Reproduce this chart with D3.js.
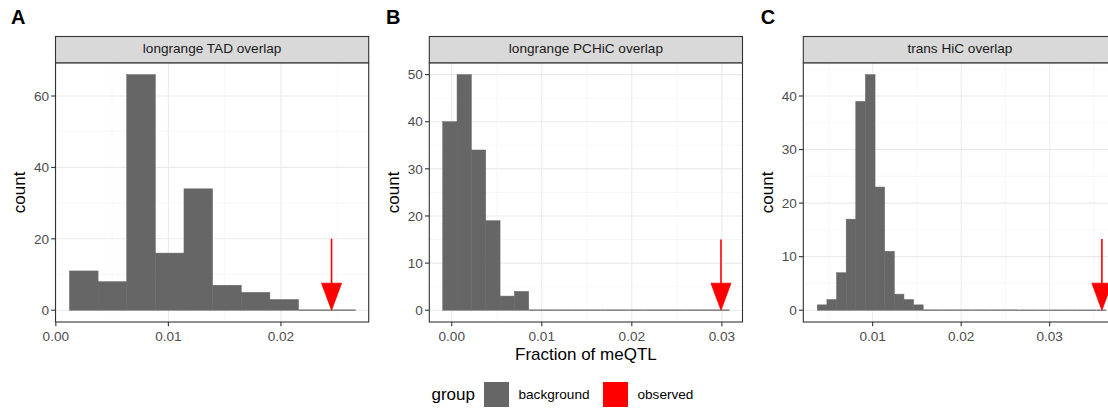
<!DOCTYPE html>
<html>
<head>
<meta charset="utf-8">
<script src="https://cdn.jsdelivr.net/npm/d3@7"></script>
<style>
  body { margin: 0; background: #fff; }
  svg { display: block; font-family: "Liberation Sans", Arial, sans-serif; }
</style>
</head>
<body>
<svg id="chart" width="1108" height="408"></svg>
<script>
// panel letters and facet strip titles
var panelLabels = ["A", "B", "C"];
var stripTitles = ["longrange TAD overlap", "longrange PCHiC overlap", "trans HiC overlap"];

// histogram bins: start of first bin, bin width, counts per bin
var binStart = [0.00121, -0.001, 0.00374];
var binWidth = [0.002544, 0.001592, 0.001088];
var countsA = [11, 8, 66, 16, 34, 7, 5, 3, 0, 0];
var countsB = [40, 50, 34, 19, 3, 4, 0, 0, 0, 0, 0, 0, 0, 0, 0, 0, 0, 0, 0, 0];
var countsC = [1, 2, 7, 17, 39, 44, 23, 11, 3, 2, 1, 0, 0, 0, 0, 0, 0, 0, 0, 0,
               0, 0, 0, 0, 0, 0, 0, 0, 0, 0];
var counts = [countsA, countsB, countsC];

// observed fraction (red arrow) and arrow top in counts
var observed = [0.0245, 0.0299, 0.0359];
var arrowTop = [20, 15, 13.3];

// axes
var xLimits = [[-0.00003, 0.0278], [-0.00249, 0.03229], [0.00216, 0.03755]];
var yLimits = [[-3.3, 69.3], [-2.5, 52.5], [-2.2, 46.2]];
var xTicks = [[0, 0.01, 0.02], [0, 0.01, 0.02, 0.03], [0.01, 0.02, 0.03]];
var yTicks = [[0, 20, 40, 60], [0, 10, 20, 30, 40, 50], [0, 10, 20, 30, 40]];
var xTitles = ["", "Fraction of meQTL", ""];

var groups = ["background", "observed"];
var groupColors = ["#666666", "#FF0000"];

// layout
var panelLeft = [55.5, 429.3, 803.3];
var panelW = 313.2;
var stripTop = 36.5, panelTop = 62.8, panelBottom = 322;
var labelX = [11, 386, 760.7];

var svg = d3.select("#chart");

function minors(ticks, dom) {
  var step = ticks.length > 1 ? ticks[1] - ticks[0] : 1;
  var out = [];
  var lo = ticks[0] - step * 2;
  for (var v = lo; v <= dom[1] + 1e-9; v += step) {
    var m = v + step / 2;
    if (m >= dom[0] && m <= dom[1]) out.push(m);
  }
  return out;
}

panelLabels.forEach(function(lab, i) {
  var left = panelLeft[i];
  var x = d3.scaleLinear().domain(xLimits[i]).range([left, left + panelW]);
  var y = d3.scaleLinear().domain(yLimits[i]).range([panelBottom, panelTop]);

  var g = svg.append("g");

  // panel clip
  var clipId = "clip" + i;
  g.append("clipPath").attr("id", clipId)
    .append("rect")
    .attr("x", left).attr("y", panelTop)
    .attr("width", panelW).attr("height", panelBottom - panelTop);

  var inner = g.append("g").attr("clip-path", "url(#" + clipId + ")");

  // minor grid
  inner.selectAll("line.xminor")
    .data(minors(xTicks[i], xLimits[i]))
    .enter().append("line")
    .attr("x1", d => x(d)).attr("x2", d => x(d))
    .attr("y1", panelTop).attr("y2", panelBottom)
    .style("stroke", "#F2F2F2").style("stroke-width", 0.6);
  inner.selectAll("line.yminor")
    .data(minors(yTicks[i], yLimits[i]))
    .enter().append("line")
    .attr("x1", left).attr("x2", left + panelW)
    .attr("y1", d => y(d)).attr("y2", d => y(d))
    .style("stroke", "#F2F2F2").style("stroke-width", 0.6);

  // major grid
  inner.selectAll("line.xmajor")
    .data(xTicks[i])
    .enter().append("line")
    .attr("x1", d => x(d)).attr("x2", d => x(d))
    .attr("y1", panelTop).attr("y2", panelBottom)
    .style("stroke", "#EBEBEB").style("stroke-width", 1.1);
  inner.selectAll("line.ymajor")
    .data(yTicks[i])
    .enter().append("line")
    .attr("x1", left).attr("x2", left + panelW)
    .attr("y1", d => y(d)).attr("y2", d => y(d))
    .style("stroke", "#EBEBEB").style("stroke-width", 1.1);

  // histogram bars
  var bins = counts[i].map(function(c, k) {
    return { x0: binStart[i] + k * binWidth[i], x1: binStart[i] + (k + 1) * binWidth[i], n: c };
  });
  inner.selectAll("rect.bar")
    .data(bins.filter(d => d.n > 0))
    .enter().append("rect")
    .attr("x", d => x(d.x0))
    .attr("width", d => x(d.x1) - x(d.x0))
    .attr("y", d => y(d.n))
    .attr("height", d => y(0) - y(d.n))
    .style("fill", groupColors[0])
    .style("stroke", groupColors[0])
    .style("stroke-width", 0.5);
  // empty bins show as a flat line on the baseline
  inner.selectAll("line.empty")
    .data(bins.filter(d => d.n === 0))
    .enter().append("line")
    .attr("x1", d => x(d.x0)).attr("x2", d => x(d.x1))
    .attr("y1", y(0)).attr("y2", y(0))
    .style("stroke", groupColors[0]).style("stroke-width", 1.2);

  // observed arrow
  var ox = x(observed[i]);
  var tip = y(0);
  inner.append("line")
    .attr("x1", ox).attr("x2", ox)
    .attr("y1", y(arrowTop[i])).attr("y2", tip - 20)
    .style("stroke", groupColors[1]).style("stroke-width", 1.6);
  inner.append("path")
    .attr("d", "M" + (ox - 10) + "," + (tip - 27) + "L" + (ox + 10) + "," + (tip - 27) + "L" + ox + "," + tip + "Z")
    .style("fill", groupColors[1]).style("stroke", groupColors[1]).style("stroke-width", 0.8);

  // panel border
  g.append("rect")
    .attr("x", left).attr("y", panelTop)
    .attr("width", panelW).attr("height", panelBottom - panelTop)
    .style("fill", "none").style("stroke", "#333333").style("stroke-width", 1.1);

  // strip
  g.append("rect")
    .attr("x", left).attr("y", stripTop)
    .attr("width", panelW).attr("height", panelTop - stripTop)
    .style("fill", "#D9D9D9").style("stroke", "#333333").style("stroke-width", 1.1);
  g.append("text")
    .attr("x", left + panelW / 2).attr("y", 52.5)
    .attr("text-anchor", "middle")
    .style("font-size", "13.6px").style("fill", "#1A1A1A")
    .text(stripTitles[i]);

  // x axis
  var xAxis = g.selectAll("g.xt").data(xTicks[i]).enter().append("g");
  xAxis.append("line")
    .attr("x1", d => x(d)).attr("x2", d => x(d))
    .attr("y1", panelBottom).attr("y2", panelBottom + 4.3)
    .style("stroke", "#333333").style("stroke-width", 1.1);
  xAxis.append("text")
    .attr("x", d => x(d)).attr("y", panelBottom + 18.7)
    .attr("text-anchor", "middle")
    .style("font-size", "13.6px").style("fill", "#4D4D4D")
    .text(d => d3.format(".2f")(d));

  // y axis
  var yAxis = g.selectAll("g.yt").data(yTicks[i]).enter().append("g");
  yAxis.append("line")
    .attr("x1", left - 4.3).attr("x2", left)
    .attr("y1", d => y(d)).attr("y2", d => y(d))
    .style("stroke", "#333333").style("stroke-width", 1.1);
  yAxis.append("text")
    .attr("x", left - 6.5).attr("y", d => y(d))
    .attr("dy", "0.35em")
    .attr("text-anchor", "end")
    .style("font-size", "13.6px").style("fill", "#4D4D4D")
    .text(d => d);

  // axis titles
  g.append("text")
    .attr("transform", "translate(" + (left - 30.6) + "," + ((panelTop + panelBottom) / 2) + ") rotate(-90)")
    .attr("text-anchor", "middle")
    .style("font-size", "17px").style("fill", "#000")
    .text("count");
  if (xTitles[i]) {
    g.append("text")
      .attr("x", left + panelW / 2).attr("y", 359.5)
      .attr("text-anchor", "middle")
      .style("font-size", "17px").style("fill", "#000")
      .text(xTitles[i]);
  }

  // panel letter
  svg.append("text")
    .attr("x", labelX[i]).attr("y", 24)
    .style("font-size", "20px").style("font-weight", "bold").style("fill", "#000")
    .text(lab);
});

// legend
var legend = svg.append("g");
legend.append("text")
  .attr("x", 431.5).attr("y", 394.5).attr("dy", "0.35em")
  .style("font-size", "17px").style("fill", "#000")
  .text("group");
var keyX = [484, 603];
groups.forEach(function(name, k) {
  legend.append("rect")
    .attr("x", keyX[k]).attr("y", 382)
    .attr("width", 25).attr("height", 25)
    .style("fill", groupColors[k]);
  legend.append("text")
    .attr("x", keyX[k] + 34.5).attr("y", 394.5).attr("dy", "0.35em")
    .style("font-size", "13.6px").style("fill", "#000")
    .text(name);
});
</script>
</body>
</html>
